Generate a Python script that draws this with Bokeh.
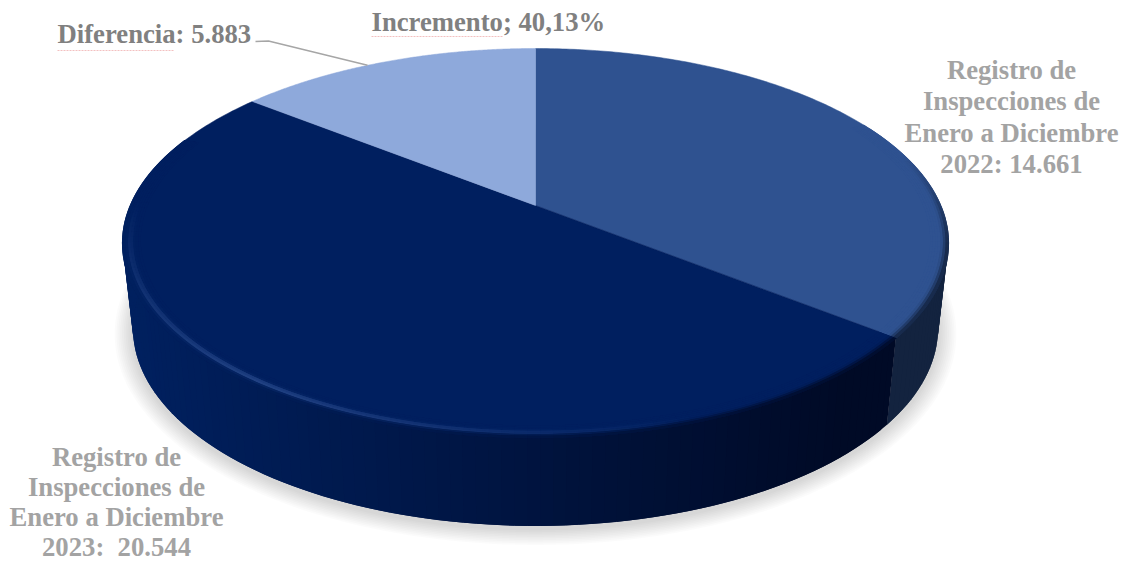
import numpy as np
from bokeh.plotting import figure
from bokeh.models import Range1d
from bokeh.core.properties import value
from bokeh.embed import file_html
from bokeh.resources import INLINE

slice_names = ["Registro 2022", "Registro 2023", "Diferencia"]
slice_values = [14661, 20544, 5883]
top_colors = ["#2f5290", "#001f5f", "#8ea9db"]
side_colors = ["#13233f", "#001040", "#6f86b0"]

label_lines = [
    ["Registro de", "Inspecciones de", "Enero a Diciembre", "2022: 14.661"],
    ["Registro de", "Inspecciones de", "Enero a Diciembre", "2023:\u00a0 20.544"],
]
label_x = [1011, 116]
label_y0 = [69, 456]
label_gap = [31.5, 30.2]
label_color = "#a3a3a3"
note_texts = ["Diferencia: 5.883", "Incremento; 40,13%"]
note_x = [57, 371]
note_y = [33, 21]
note_color = "#808080"

# perspective of the pie disc
CX, K = 535.0, 0.193
TOP = dict(a=405.0, b=187.3, y0=205.0)
BOT = dict(a=395.0, b=190.0, y0=290.0)


def proj(theta, r, s):
    X = r * np.sin(theta)
    Y = r * np.cos(theta)
    d = 1 + K * Y
    return CX + s["a"] * X / d, s["y0"] - s["b"] * Y / d


def rgb(h):
    return np.array([int(h[i:i + 2], 16) for i in (1, 3, 5)], float)


def mix(c1, c2, t):
    v = rgb(c1) * (1 - t) + rgb(c2) * t
    return "#%02x%02x%02x" % tuple(int(round(x)) for x in v)


totals = np.cumsum([0] + slice_values) / sum(slice_values) * 2 * np.pi

p = figure(width=1130, height=562, output_backend="svg", toolbar_location=None,
           x_range=Range1d(0, 1130), y_range=Range1d(562, 0), min_border=0)
p.axis.visible = False
p.grid.visible = False
p.outline_line_color = None
p.background_fill_color = "#ffffff"
p.border_fill_color = "#ffffff"

# soft shadow
th = np.linspace(0, 2 * np.pi, 240)
for i in range(10):
    sc = dict(a=BOT["a"] + 18 - 1.8 * i, b=BOT["b"] + 13 - 1.3 * i, y0=BOT["y0"] + 3)
    sx, sy = proj(th, 1.0, sc)
    p.patch(sx, sy, fill_color="#000000", fill_alpha=0.014, line_color=None)


def side_col(x):
    return mix("#00205f", "#000a26", np.clip((x - 130) / 720, 0, 1))


# side wall: each strip reaches over its neighbour so that no seam shows
step = np.radians(1.5)
for idx, (lo, hi) in enumerate(zip(totals[:-1], totals[1:])):
    if idx == 2:
        continue
    a0 = max(lo, np.radians(70))
    a1 = min(hi, np.radians(292))
    edges = np.arange(a0, a1, step)
    xs, ys, cs = [], [], []
    for t0 in edges:
        t1 = min(t0 + 2 * step, a1)
        x0, y0 = proj(t0, 1, TOP)
        x1, y1 = proj(t1, 1, TOP)
        x2, y2 = proj(t1, 1, BOT)
        x3, y3 = proj(t0, 1, BOT)
        col = side_colors[0] if idx == 0 else side_col(x0)
        xs.append([x0, x1, x2, x3])
        ys.append([y0, y1, y2, y3])
        cs.append(col)
    p.patches(xs, ys, fill_color=cs, line_color=None)

# top faces
for idx, (lo, hi) in enumerate(zip(totals[:-1], totals[1:])):
    t = np.linspace(lo, hi, 200)
    x, y = proj(t, 1, TOP)
    x = np.r_[CX, x]
    y = np.r_[TOP["y0"], y]
    p.patch(x, y, fill_color=top_colors[idx], line_color=top_colors[idx], line_width=0.5)

# rounded rim
rings = np.linspace(0.958, 1.0, 8)
for idx, (lo, hi) in enumerate(zip(totals[:-1], totals[1:])):
    if idx == 2:
        continue
    a0 = max(lo, np.radians(62))
    a1 = min(hi, np.radians(292))
    edges = np.arange(a0, a1, step)
    for j in range(len(rings) - 1):
        s = (j + 0.5) / (len(rings) - 1)
        xs, ys, cs = [], [], []
        for t0 in edges:
            t1 = min(t0 + 2 * step, a1)
            tm = t0
            deg = np.degrees(tm)
            w = np.clip((0.3 - np.cos(tm)) / 0.5, 0, 1)
            hw = np.clip(1 - abs(deg - 215) / 55, 0, 1) ** 0.9 if idx == 1 else 0.0
            c = top_colors[idx]
            h = np.exp(-((s - 0.6) / 0.16) ** 2) * hw * 0.65
            c = mix(c, "#3d5fa3", h)
            d = np.clip((s - 0.6) / 0.4, 0, 1) * w
            dark = side_colors[0] if idx == 0 else side_col(proj(tm, 1, TOP)[0])
            c = mix(c, dark, d)
            x0, y0 = proj(t0, rings[j], TOP)
            x1, y1 = proj(t1, rings[j], TOP)
            x2, y2 = proj(t1, rings[j + 1] + 0.002, TOP)
            x3, y3 = proj(t0, rings[j + 1] + 0.002, TOP)
            xs.append([x0, x1, x2, x3])
            ys.append([y0, y1, y2, y3])
            cs.append(c)
        p.patches(xs, ys, fill_color=cs, line_color=None)

# leader line of the "Diferencia" label
ex, ey = proj(np.radians(331), 1.0, TOP)
p.line([255, 268, ex], [41, 40.5, ey], line_color="#a6a6a6", line_width=1.5)

# spell-check underlines seen in the reference
p.line([57, 174], [50, 50], line_color="#f3c0c0", line_width=1, line_dash="2 1")
p.line([371, 503], [36, 36], line_color="#f3c0c0", line_width=1, line_dash="2 1")

# labels
for lines, lx, ly, gap in zip(label_lines, label_x, label_y0, label_gap):
    p.text([lx] * 4, [ly + gap * i for i in range(4)], text=lines,
           text_font=value("Liberation Serif"), text_font_style="bold",
           text_font_size="26.7px", text_color=label_color,
           text_align="center", text_baseline="middle")
p.text(note_x, note_y, text=note_texts, text_font=value("Liberation Serif"),
       text_font_style="bold", text_font_size="26.7px", text_color=note_color,
       text_align="left", text_baseline="middle")

open("out.html", "w").write(file_html(p, INLINE))
